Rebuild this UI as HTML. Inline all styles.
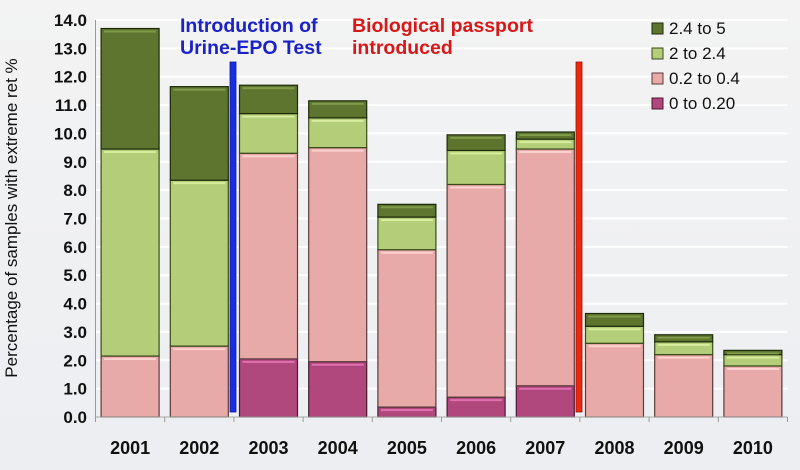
<!DOCTYPE html>
<html><head><meta charset="utf-8"><style>
html,body{margin:0;padding:0;background:#eef0f3;}
svg{display:block;font-family:"Liberation Sans",sans-serif;}
</style></head><body>
<svg id="chart" width="800" height="470">
<defs>
<linearGradient id="bg" x1="0" y1="0" x2="0" y2="1"><stop offset="0" stop-color="#f3f3f3"/><stop offset="1" stop-color="#eceef2"/></linearGradient>
</defs>
<rect x="0" y="0" width="800" height="470" fill="url(#bg)"/>
<g id="grid"></g>
<g id="bars"></g>
<g id="axes"></g>
<text x="0" y="0" transform="translate(17,218) rotate(-90)" text-anchor="middle" font-size="17" fill="#111">Percentage of samples with extreme ret %</text>
<rect x="230" y="62" width="6" height="350" fill="#1a2ee0" stroke="#0a1a9a" stroke-width="0.8"/>
<text x="180" y="32" font-size="19.5" font-weight="bold" fill="#1a22c8"><tspan x="180">Introduction of</tspan><tspan x="180" dy="22">Urine-EPO Test</tspan></text>
<rect x="576" y="62" width="6" height="350" fill="#e82a10" stroke="#a01000" stroke-width="0.8"/>
<text x="352" y="32" font-size="19.5" font-weight="bold" fill="#d81818"><tspan x="352">Biological passport</tspan><tspan x="352" dy="22">introduced</tspan></text>
<g id="legend"></g>
</svg>
<script>
const categories=["2001","2002","2003","2004","2005","2006","2007","2008","2009","2010"];
const s0to020=[0,0,2.05,1.95,0.35,0.7,1.1,0,0,0];
const s02to04=[2.15,2.5,7.25,7.55,5.55,7.5,8.35,2.6,2.2,1.8];
const s2to24=[7.3,5.85,1.4,1.05,1.15,1.2,0.35,0.6,0.45,0.4];
const s24to5=[4.25,3.3,1.0,0.6,0.45,0.55,0.25,0.45,0.25,0.15];
const yTicks=[0,1,2,3,4,5,6,7,8,9,10,11,12,13,14];
const seriesNames=["0 to 0.20","0.2 to 0.4","2 to 2.4","2.4 to 5"];
const NS="http://www.w3.org/2000/svg";
const x0=95.5,x1=787.5,yb=417,yt=20,ymax=14;
const y=v=>yb-(v/ymax)*(yb-yt);
const bw=(x1-x0)/categories.length;
const xc=i=>x0+bw*(i+0.5);
const fills=["#b0477d","#e8aaa8","#b3cd78","#5e7530"];
const hi=["#e070b0","#fbd0ce","#d8ec9e","#7f9a48"];
const strokes=["#4a1a30","#5a3a3a","#3a4a1a","#1e2a0a"];
const series=[s0to020,s02to04,s2to24,s24to5];
function mk(t,a,p){const e=document.createElementNS(NS,t);for(const k in a)e.setAttribute(k,a[k]);p.appendChild(e);return e;}
const grid=document.getElementById('grid'),axes=document.getElementById('axes'),bars=document.getElementById('bars'),leg=document.getElementById('legend');
yTicks.forEach(t=>{
 const l=mk('line',{x1:x0,x2:x1,y1:y(t),y2:y(t),stroke:'#ffffff','stroke-width':2},grid);
 
 
 const tx=mk('text',{x:87,y:y(t)+6,'text-anchor':'end','font-size':17,'font-weight':'bold',fill:'#111'},axes);
 tx.textContent=t.toFixed(1);
 
 
});
const ax=mk('line',{x1:x0,x2:x0,y1:yt,y2:yb,stroke:'#999','stroke-width':1},axes);


const bx=mk('line',{x1:x0,x2:x1,y1:yb,y2:yb,stroke:'#999','stroke-width':1},axes);


for(let i=0;i<=categories.length;i++){
 const tk=mk('line',{x1:x0+bw*i,x2:x0+bw*i,y1:yb,y2:yb+5,stroke:'#999'},axes);
 
 
}
categories.forEach((c,i)=>{
 const tx=mk('text',{x:xc(i),y:454,'text-anchor':'middle','font-size':18,'font-weight':'bold',fill:'#111'},axes);
 tx.textContent=c;
 
 
 let cum=0;
 series.forEach((s,k)=>{
  const v=s[i]; if(v<=0){return;}
  const top=y(cum+v),bot=y(cum);cum+=v;
  const r=mk('rect',{x:xc(i)-29,y:top,width:58,height:bot-top,fill:fills[k],stroke:strokes[k],'stroke-width':1.2},bars);
  
  
  if(bot-top>4){const h=mk('rect',{x:xc(i)-26,y:top+2,width:52,height:2,fill:hi[k]},bars);
  
  }
 });
});
[3,2,1,0].forEach((k,j)=>{
 const ly=33+j*25;
 const r=mk('rect',{x:652,y:ly-10,width:11,height:11,fill:fills[k],stroke:strokes[k]},leg);
 
 
 const t=mk('text',{x:669,y:ly+1,'font-size':17,fill:'#111'},leg);
 t.textContent=seriesNames[k];
 
 
});
</script>
</body></html>
